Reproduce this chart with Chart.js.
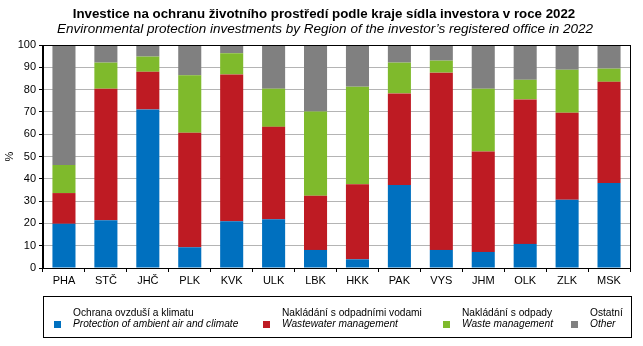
<!DOCTYPE html>
<html>
<head>
<meta charset="utf-8">
<script src="https://cdn.jsdelivr.net/npm/chart.js@4/dist/chart.umd.min.js"></script>
<style>
  html, body { margin: 0; padding: 0; background: #fff; }
  #wrap { width: 643px; height: 346px; }
</style>
</head>
<body>
<div id="wrap"><canvas id="c" width="643" height="346"></canvas></div>
<script>
// Regions (kraje) of the Czech Republic
const regions = ['PHA', 'STČ', 'JHČ', 'PLK', 'KVK', 'ULK', 'LBK', 'HKK', 'PAK', 'VYS', 'JHM', 'OLK', 'ZLK', 'MSK'];

// Share of environmental protection investments by domain, % of region total
const airClimate = [19.8, 21.4, 71.1, 9.3, 21.0, 21.9, 8.1, 3.9, 37.2, 8.1, 7.2, 10.8, 30.6, 38.1];
const wastewater = [13.8, 59.0, 16.9, 51.3, 65.8, 41.4, 24.3, 33.7, 41.1, 79.5, 45.0, 64.8, 39.0, 45.4];
const waste      = [12.6, 11.7, 6.8, 25.8, 9.5, 17.1, 37.8, 43.7, 13.8, 5.4, 28.2, 8.8, 19.3, 5.9];
const other      = [53.8, 7.9, 5.2, 13.6, 3.7, 19.6, 29.8, 18.7, 7.9, 7.0, 19.6, 15.6, 11.1, 10.6];

// Series names (Czech / English)
const seriesCz = ['Ochrana ovzduší a klimatu', 'Nakládání s odpadními vodami', 'Nakládání s odpady', 'Ostatní'];
const seriesEn = ['Protection of ambient air and climate', 'Wastewater management', 'Waste management', 'Other'];

const titleCz = 'Investice na ochranu životního prostředí podle kraje sídla investora v roce 2022';
const titleEn = 'Environmental protection investments by Region of the investor\u2019s registered office in 2022';
const yAxisTitle = '%';

const colors = ['#0070BF', '#BE1B23', '#7FBA2C', '#808080'];
const FONT = "'Liberation Sans', Arial, sans-serif";

const seriesData = [airClimate, wastewater, waste, other];

// Frame around the plot, titles above it and the boxed legend below it
const decorations = {
  id: 'decorations',
  afterDatasetsDraw(chart) {
    const { ctx, chartArea: a } = chart;
    ctx.save();
    ctx.strokeStyle = '#000';
    ctx.lineWidth = 1;
    ctx.strokeRect(Math.round(a.left) - 0.5, Math.round(a.top) + 0.5,
                   Math.round(a.right - a.left) + 1, Math.round(a.bottom - a.top));
    ctx.restore();
  },
  afterDraw(chart) {
    const ctx = chart.ctx;
    ctx.save();
    ctx.fillStyle = '#000';
    ctx.textAlign = 'center';
    ctx.textBaseline = 'alphabetic';
    ctx.font = 'bold 13.3px ' + FONT;
    ctx.fillText(titleCz, 324, 18);
    ctx.font = 'italic 13.5px ' + FONT;
    ctx.fillText(titleEn, 325, 33);

    // legend box
    ctx.strokeStyle = '#000';
    ctx.lineWidth = 1;
    ctx.strokeRect(43.5, 296.5, 588, 41);

    const itemX = [54, 263, 443, 571];
    ctx.textAlign = 'left';
    chart.data.datasets.forEach((ds, i) => {
      ctx.fillStyle = ds.backgroundColor;
      ctx.fillRect(itemX[i], 321, 7, 7);
      ctx.fillStyle = '#000';
      ctx.font = '10.2px ' + FONT;
      ctx.fillText(ds.label, itemX[i] + 19, 316);
      ctx.font = 'italic 10.2px ' + FONT;
      ctx.fillText(ds.labelEn, itemX[i] + 19, 327);
    });
    ctx.restore();
  }
};

new Chart(document.getElementById('c'), {
  type: 'bar',
  data: {
    labels: regions,
    datasets: seriesData.map((values, i) => ({
      label: seriesCz[i],
      labelEn: seriesEn[i],
      data: values,
      backgroundColor: colors[i],
      borderWidth: 0,
      categoryPercentage: 1,
      barPercentage: 0.55
    }))
  },
  options: {
    responsive: false,
    animation: false,
    devicePixelRatio: 1,
    layout: { padding: { left: 0, right: 13, top: 45, bottom: 58 } },
    plugins: {
      legend: { display: false },
      title: { display: false },
      tooltip: { enabled: false }
    },
    scales: {
      x: {
        stacked: true,
        afterFit(scale) { scale.height = 20; },
        grid: {
          offset: true,
          drawOnChartArea: false,
          drawTicks: true,
          tickLength: 4,
          tickColor: '#000'
        },
        border: { display: true, color: '#000', width: 1 },
        ticks: {
          color: '#000',
          padding: 2,
          font: { family: FONT, size: 11 },
          maxRotation: 0,
          autoSkip: false
        }
      },
      y: {
        stacked: true,
        min: 0,
        max: 100,
        afterFit(scale) { scale.width = 43; },
        grid: {
          color: '#B4B4B4',
          lineWidth: 1,
          drawTicks: true,
          tickLength: 4,
          tickColor: '#000'
        },
        border: { display: true, color: '#000', width: 1 },
        ticks: {
          stepSize: 10,
          color: '#000',
          padding: 3,
          font: { family: FONT, size: 11 }
        },
        title: {
          display: true,
          text: yAxisTitle,
          color: '#000',
          padding: { top: 3, bottom: 0 },
          font: { family: FONT, size: 11 }
        }
      }
    }
  },
  plugins: [decorations]
});
</script>
</body>
</html>
